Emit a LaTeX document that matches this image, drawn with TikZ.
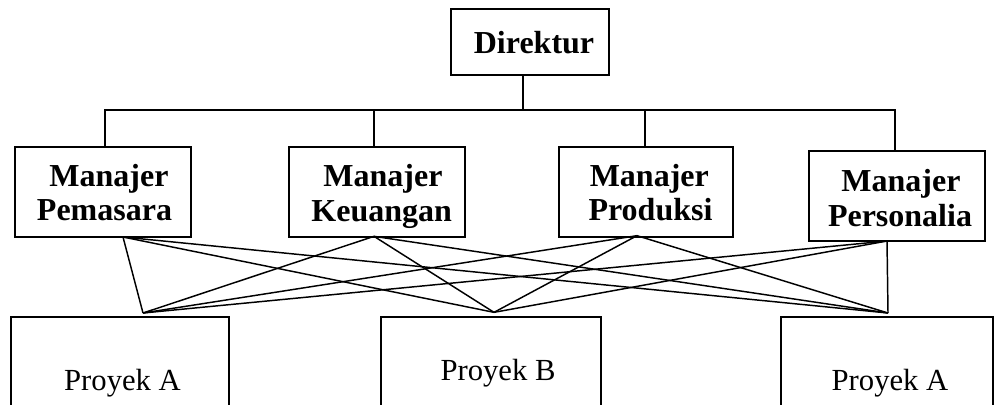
\documentclass[tikz,border=0pt]{standalone}
\usepackage{fontspec}
\setmainfont{Liberation Serif}
\begin{document}
\begin{tikzpicture}[x=0.75pt,y=-0.75pt,
  box/.style={draw,line width=1.4pt,inner sep=0pt,outer sep=0pt,rectangle},
  mgr/.style={box,minimum width=132pt,minimum height=67.5pt},
  prj/.style={box,minimum height=77.25pt},
  btxt/.style={anchor=base,inner sep=0pt,font=\fontsize{24pt}{28pt}\selectfont\bfseries},
  rtxt/.style={anchor=base,inner sep=0pt,font=\fontsize{23pt}{27pt}\selectfont},
  link/.style={line width=1.1pt},
  tree/.style={line width=1.4pt}]
\clip (0,0) rectangle (994,404);
% boxes
\node[box,minimum width=118.5pt,minimum height=49.5pt] (dir) at (530,42) {};
\node[mgr] (pem) at (103,192) {};
\node[mgr] (keu) at (377,192) {};
\node[mgr,minimum width=130.5pt] (pro) at (646,192) {};
\node[mgr] (per) at (897,196) {};
\node[prj,minimum width=163.5pt] (pa1) at (120,368.5) {};
\node[prj,minimum width=165pt] (pb) at (491,368.5) {};
\node[prj,minimum width=159pt] (pa2) at (887,368.5) {};
% texts
\node[btxt] (tdir) at (534,53) {Direktur};
\node[btxt] (tpem1) at (109,186.7) {Manajer};
\node[btxt] (tpem2) at (104.5,220.7) {Pemasara};
\node[btxt] (tkeu1) at (383,186.7) {Manajer};
\node[btxt] (tkeu2) at (381.7,221.7) {Keuangan};
\node[btxt] (tpro1) at (649.3,186) {Manajer};
\node[btxt] (tpro2) at (650.5,220) {Produksi};
\node[btxt] (tper1) at (901,191) {Manajer};
\node[btxt] (tper2) at (900,226.7) {Personalia};
\node[rtxt] (tpa1) at (122.5,390.7) {Proyek A};
\node[rtxt] (tpb) at (498,380) {Proyek B};
\node[rtxt] (tpa2) at (890,390.7) {Proyek A};
% tree
\coordinate (bus) at (523,110);
\draw[tree] ([xshift=-5.25pt]dir.south) -- (bus);
\draw[tree] ([xshift=1.5pt]pem.north) |- (bus) -| ([xshift=-1.7pt]per.north);
\draw[tree] ([xshift=-2.25pt]keu.north) -- ([xshift=-2.25pt]keu.north |- bus);
\draw[tree] ([xshift=-0.75pt]pro.north) -- ([xshift=-0.75pt]pro.north |- bus);
% connection points
\coordinate (pemB) at ([xshift=15pt]pem.south);
\coordinate (keuB) at ([xshift=-2.25pt,yshift=0.5pt]keu.south);
\coordinate (proB) at ([xshift=-6.75pt,yshift=1pt]pro.south);
\coordinate (perB) at ([xshift=-7.5pt]per.south);
\coordinate (pa1T) at ([xshift=17.25pt,yshift=3pt]pa1.north);
\coordinate (pbT) at ([xshift=2.25pt,yshift=3.5pt]pb.north);
\coordinate (pa2T) at ([xshift=0.75pt,yshift=3pt]pa2.north);
\foreach \m in {pemB,keuB,proB,perB}{
  \foreach \p in {pa1T,pbT,pa2T}{
    \draw[link] (\m) -- (\p);
  }
}
\end{tikzpicture}
\end{document}
